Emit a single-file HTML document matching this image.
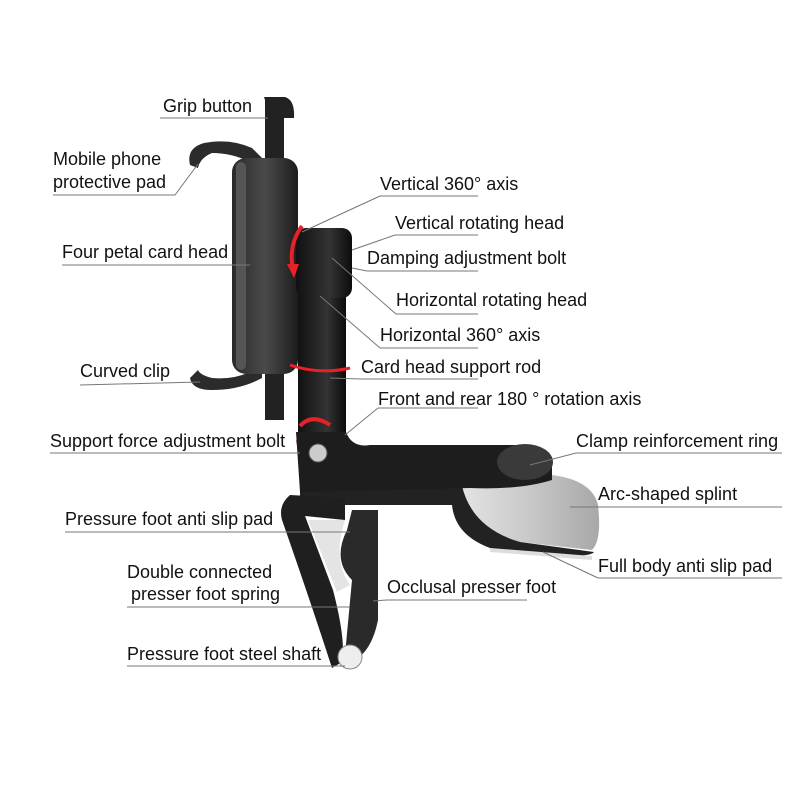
<!DOCTYPE html>
<html><head><meta charset="utf-8"><style>
html,body{margin:0;padding:0;background:#fff;}
svg{display:block;}
text{font-family:"Liberation Sans",sans-serif;font-size:18px;fill:#111;}
</style></head><body>
<svg width="800" height="800" viewBox="0 0 800 800" xmlns="http://www.w3.org/2000/svg">
<defs>
<linearGradient id="g1" x1="0" x2="1"><stop offset="0" stop-color="#2a2a2a"/><stop offset="0.5" stop-color="#4a4a4a"/><stop offset="1" stop-color="#1c1c1c"/></linearGradient>
<linearGradient id="g2" x1="0" x2="1"><stop offset="0" stop-color="#111"/><stop offset="0.6" stop-color="#333"/><stop offset="1" stop-color="#0c0c0c"/></linearGradient>
<linearGradient id="g3" x1="0" x2="1"><stop offset="0" stop-color="#e4e4e4"/><stop offset="0.5" stop-color="#c8c8c8"/><stop offset="1" stop-color="#a8a8a8"/></linearGradient>
</defs>
<!-- grip button bar -->
<path d="M264 97 L285 97 Q295 100 294 118 L284 118 L284 420 L265 420 L265 100 Z" fill="#222"/>
<!-- top clip -->
<path d="M190 165 Q186 148 204 143 Q230 138 252 148 L262 158 L250 162 Q232 153 212 153 Q200 158 198 168 Z" fill="#2b2b2b"/>
<!-- bottom clip -->
<path d="M190 378 Q192 390 212 390 Q240 390 262 378 L262 368 L250 372 Q232 380 212 378 Q200 375 198 370 Z" fill="#2b2b2b"/>
<!-- phone head body -->
<rect x="232" y="158" width="66" height="216" rx="14" fill="url(#g1)"/>
<rect x="236" y="162" width="10" height="208" rx="5" fill="#555"/>
<!-- rod -->
<rect x="298" y="292" width="48" height="150" fill="url(#g2)"/>
<!-- rotating head -->
<rect x="296" y="228" width="56" height="70" rx="10" fill="url(#g2)"/>
<!-- red arrows -->
<path d="M302 226 Q288 245 293 270" stroke="#e8202a" stroke-width="4" fill="none"/>
<path d="M287 264 L294 278 L299 264 Z" fill="#e8202a"/>
<path d="M290 365 Q320 375 350 368" stroke="#e8202a" stroke-width="3" fill="none"/>
<path d="M300 426 Q312 413 330 425" stroke="#e8202a" stroke-width="4" fill="none"/>
<path d="M298 440 Q300 452 304 458" stroke="#e8202a" stroke-width="4" fill="none"/>
<!-- arc splint -->
<path d="M460 485 L552 475 Q592 480 598 505 Q602 540 592 550 L520 542 Q478 535 466 505 Z" fill="url(#g3)"/>
<path d="M300 488 L462 486 Q472 528 520 542 L594 552 Q590 558 540 555 L490 548 Q455 535 452 505 L300 505 Z" fill="#222"/>
<path d="M490 548 L592 556 L592 560 L490 552 Z" fill="#ddd"/>
<!-- clamp arm -->
<path d="M296 432 L346 432 Q352 448 370 445 L520 445 Q550 445 552 462 L552 480 Q520 490 470 488 L300 492 Z" fill="#1d1d1d"/>
<ellipse cx="525" cy="462" rx="28" ry="18" fill="#3a3a3a"/>
<!-- presser foot -->
<path d="M290 495 L345 498 L345 520 L305 516 L333 590 Q346 640 342 662 L332 668 Q310 600 282 520 Q278 505 290 495 Z" fill="#1f1f1f"/>
<path d="M352 510 L378 510 L378 620 Q372 650 355 660 L345 655 L352 580 Q332 560 347 530 Z" fill="#2a2a2a"/>
<path d="M308 520 L345 520 Q332 560 350 585 L337 592 Z" fill="#e4e4e4"/>
<circle cx="350" cy="657" r="12" fill="#eee" stroke="#888"/>
<circle cx="318" cy="453" r="9" fill="#ccc" stroke="#555"/>
<g stroke="#777" stroke-width="1" fill="none">
<path d="M160 118 L268 118"/>
<path d="M53 195 L175 195 L198 164"/>
<path d="M62 265 L250 265"/>
<path d="M80 385 L200 382"/>
<path d="M380 196 L478 196 M380 196 L302 232"/>
<path d="M395 235 L478 235 M395 235 L352 250"/>
<path d="M367 271 L478 271 M352 268 L367 271"/>
<path d="M396 314 L478 314 M396 314 L332 258"/>
<path d="M380 348 L478 348 M380 348 L320 296"/>
<path d="M361 379 L478 379 M361 379 L330 378"/>
<path d="M378 408 L478 408 M378 408 L345 435"/>
<path d="M50 453 L300 453"/>
<path d="M576 453 L782 453 M576 453 L530 465"/>
<path d="M598 507 L782 507 M598 507 L570 507"/>
<path d="M65 532 L350 532"/>
<path d="M598 578 L782 578 M598 578 L543 552"/>
<path d="M127 607 L350 607"/>
<path d="M387 600 L527 600 M387 600 L373 601"/>
<path d="M127 666 L345 666"/>
</g>
<text x="163" y="112">Grip button</text>
<text x="53" y="165">Mobile phone</text>
<text x="53" y="188">protective pad</text>
<text x="62" y="258">Four petal card head</text>
<text x="80" y="377">Curved clip</text>
<text x="380" y="190">Vertical 360°  axis</text>
<text x="395" y="229">Vertical rotating head</text>
<text x="367" y="264">Damping adjustment bolt</text>
<text x="396" y="306">Horizontal rotating head</text>
<text x="380" y="341">Horizontal 360°  axis</text>
<text x="361" y="373">Card head support rod</text>
<text x="378" y="405">Front and rear 180 °  rotation axis</text>
<text x="50" y="447">Support force adjustment bolt</text>
<text x="576" y="447">Clamp reinforcement ring</text>
<text x="598" y="500">Arc-shaped splint</text>
<text x="65" y="525">Pressure foot anti slip pad</text>
<text x="598" y="572">Full body anti slip pad</text>
<text x="127" y="578">Double connected</text>
<text x="131" y="600">presser foot spring</text>
<text x="387" y="593">Occlusal presser foot</text>
<text x="127" y="660">Pressure foot steel shaft</text>
</svg>
</body></html>
